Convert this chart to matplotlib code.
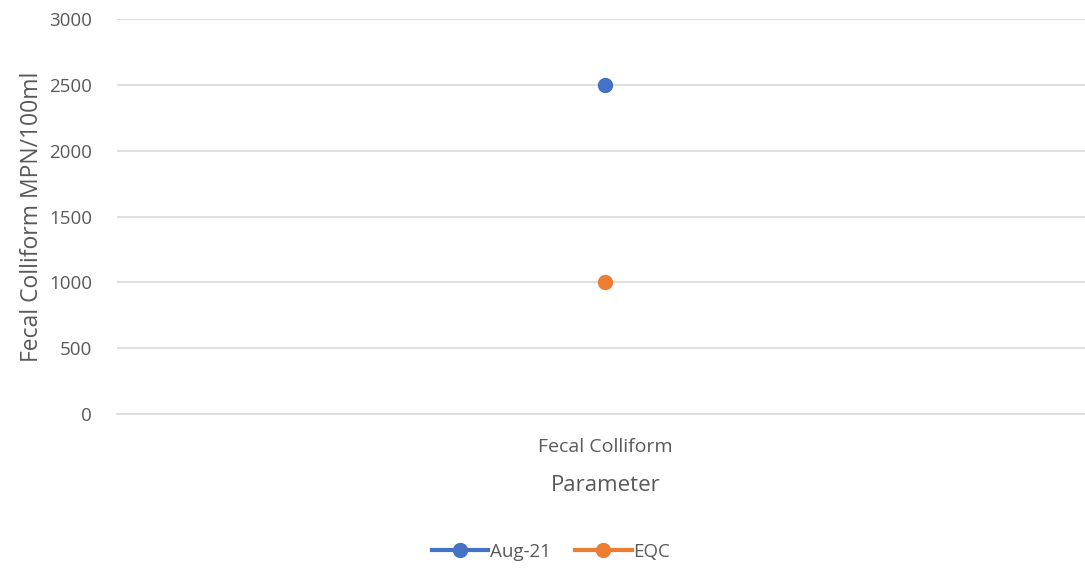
import numpy as np
import matplotlib.pyplot as plt
from matplotlib.lines import Line2D

categories = ['Fecal Colliform']
aug21 = [2500]
eqc = [1000]
series_names = ['Aug-21', 'EQC']
colors = ['#4472C4', '#ED7D31']

plt.rcParams['font.family'] = ['Open Sans', 'DejaVu Sans']
text_color = '#595959'
grid_color = '#D9D9D9'

fig = plt.figure(figsize=(10.85, 5.72), dpi=100)
ax = fig.add_axes([0.108, 0.276, 0.9, 0.691])

x = np.arange(len(categories))
for vals, name, c in zip([aug21, eqc], series_names, colors):
    ax.plot(x, vals, color=c, lw=3, marker='o', ms=10, label=name, zorder=3)

ax.set_xlim(-0.5, len(categories) - 0.5)
ax.set_ylim(0, 3000)
ax.set_yticks(np.arange(0, 3001, 500))
ax.set_xticks(x)
ax.set_xticklabels(categories)

ax.grid(axis='y', color=grid_color, lw=1.2)
ax.set_axisbelow(True)
for s in ['top', 'right', 'left']:
    ax.spines[s].set_visible(False)
ax.spines['bottom'].set_color(grid_color)
ax.spines['bottom'].set_linewidth(1.2)
ax.tick_params(length=0, labelsize=13.5, colors=text_color)
ax.tick_params(axis='y', pad=18)
ax.tick_params(axis='x', labelsize=14, pad=17)

ax.set_ylabel('Fecal Colliform MPN/100ml', fontsize=16.5, color=text_color, labelpad=4)
ax.set_xlabel('Parameter', fontsize=16, color=text_color, labelpad=14)

handles = [Line2D([], [], color=c, lw=3, marker='o', ms=10) for c in colors]
fig.legend(handles, series_names, loc='center', bbox_to_anchor=(0.508, 0.035), ncol=2,
           frameon=False, fontsize=13.5, labelcolor=text_color, handlelength=3.0,
           handletextpad=0.1, columnspacing=1.3)

fig.savefig('out.png', dpi=100)
